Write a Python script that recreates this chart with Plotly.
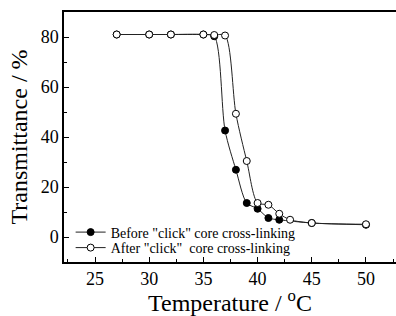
import plotly.graph_objects as go

# Data
before_t = [27, 30, 32, 35, 36, 37, 38, 39, 40, 41, 42, 45, 50]
before_v = [81, 81, 81, 81, 80.3, 42.6, 26.9, 13.6, 11.3, 7.6, 6.9, 5.6, 4.9]
after_t = [27, 30, 32, 35, 36, 37, 38, 39, 40, 41, 42, 43, 45, 50]
after_v = [81, 81, 81, 81, 80.8, 80.6, 49.3, 30.4, 13.6, 12.9, 9.3, 6.9, 5.6, 5.1]

before_name = 'Before "click" core cross-linking'
after_name = 'After "click"\u00a0 core cross-linking'

FONT = "Liberation Serif, Times New Roman, serif"

fig = go.Figure()
fig.add_trace(go.Scatter(
    x=before_t, y=before_v, name=before_name, mode="lines+markers", legend="legend",
    line=dict(color="#222222", width=1, shape="spline", smoothing=0.8),
    marker=dict(symbol="circle", size=7, color="black", line=dict(color="black", width=1)),
))
fig.add_trace(go.Scatter(
    x=after_t, y=after_v, name=after_name, mode="lines+markers", legend="legend2",
    line=dict(color="#222222", width=1, shape="spline", smoothing=0.8),
    marker=dict(symbol="circle", size=7, color="white", line=dict(color="black", width=1)),
))

leg_common = dict(
    xanchor="left", yanchor="middle", bgcolor="rgba(0,0,0,0)",
    font=dict(family=FONT, size=14, color="black"), itemwidth=30,
)

fig.update_layout(
    width=396, height=316,
    margin=dict(l=64, r=0, t=12, b=54),
    plot_bgcolor="white", paper_bgcolor="white",
    font=dict(family=FONT, color="black", size=17),
    showlegend=True,
    legend=dict(x=0.02, y=0.118, **leg_common),
    legend2=dict(x=0.02, y=0.056, **leg_common),
    xaxis=dict(
        range=[22.14, 52.77], tickmode="linear", tick0=25, dtick=5,
        ticks="inside", ticklen=5, tickwidth=1, tickcolor="black",
        minor=dict(ticks="inside", ticklen=3, dtick=2.5, tick0=25, tickcolor="black"),
        showline=True, linecolor="black", linewidth=1.5, mirror=True,
        showgrid=False, zeroline=False, automargin=False,
        tickfont=dict(size=18, family=FONT, color="black"),
        title=dict(text="Temperature / <sup>o</sup>C", font=dict(size=24, family=FONT), standoff=4),
    ),
    yaxis=dict(
        range=[-10, 90], tickmode="linear", tick0=0, dtick=20,
        ticks="inside", ticklen=5, tickwidth=1, tickcolor="black",
        minor=dict(ticks="inside", ticklen=3, dtick=10, tick0=0, tickcolor="black"),
        showline=True, linecolor="black", linewidth=1.5, mirror=False,
        showgrid=False, zeroline=False, automargin=False,
        tickfont=dict(size=18, family=FONT, color="black"),
        title=dict(text="Transmittance / %", font=dict(size=24, family=FONT), standoff=6),
    ),
)

fig.write_html(
    "out.html",
    config={"displayModeBar": False},
    post_script="document.body.style.margin='0';document.body.style.overflow='hidden';",
)
